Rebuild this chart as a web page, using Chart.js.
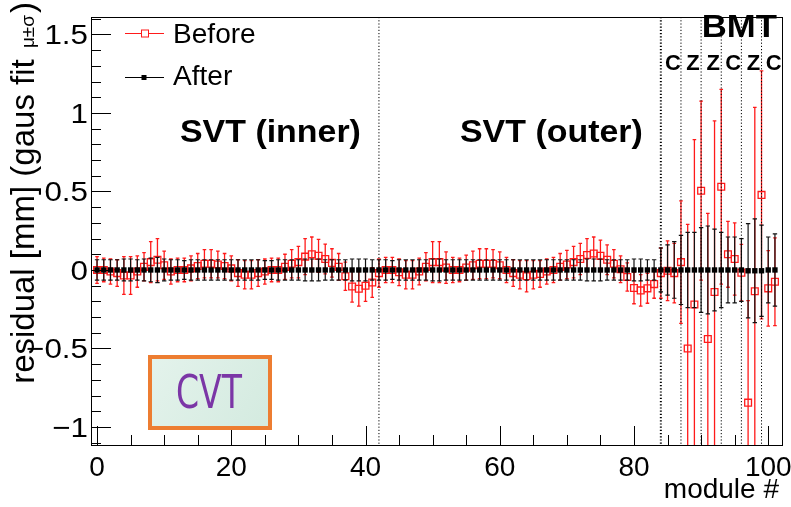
<!DOCTYPE html>
<html>
<head>
<meta charset="utf-8">
<script src="https://cdn.jsdelivr.net/npm/chart.js@4.4.1/dist/chart.umd.min.js"></script>
<style>
  html, body { margin: 0; padding: 0; background: #fff; }
  #wrap { width: 791px; height: 507px; }
</style>
</head>
<body>
<div id="wrap"><canvas id="residualChart" width="791" height="507"></canvas></div>
<script>
// module index 0..101 : 42 inner SVT, 42 outer SVT, 18 BMT
const modules = Array.from({ length: 102 }, (_, i) => i);

const beforeVal = [
  0.00, 0.00, -0.01, -0.02, -0.035, -0.035, -0.01, 0.02, 0.05, 0.065,
  0.03, -0.01, 0.00, 0.00, 0.01, 0.025, 0.04, 0.04, 0.035, 0.025,
  0.01, -0.02, -0.03, -0.03, -0.02, -0.01, 0.00, 0.00, 0.02, 0.04,
  0.05, 0.085, 0.10, 0.09, 0.07, 0.045, 0.02, -0.04, -0.105, -0.12,
  -0.10, -0.08, -0.02, 0.00, 0.00, -0.015, -0.03, -0.03, -0.01, 0.02,
  0.05, 0.05, 0.015, 0.00, 0.00, 0.015, 0.03, 0.04, 0.04, 0.04,
  0.03, 0.00, -0.02, -0.03, -0.04, -0.03, -0.025, -0.01, 0.00, 0.02,
  0.035, 0.05, 0.07, 0.095, 0.105, 0.09, 0.065, 0.04, 0.005, -0.045,
  -0.115, -0.13, -0.117, -0.09, -0.02, -0.005, -0.02, 0.05, -0.50, -0.22,
  0.505, -0.44, -0.14, 0.53, 0.10, 0.07, -0.017, -0.845, -0.135, 0.478,
  -0.117, -0.075
];
const beforeErr = [
  0.085, 0.075, 0.08, 0.085, 0.12, 0.12, 0.10, 0.09, 0.13, 0.135,
  0.09, 0.08, 0.075, 0.075, 0.08, 0.08, 0.09, 0.09, 0.085, 0.08,
  0.08, 0.085, 0.09, 0.09, 0.085, 0.08, 0.075, 0.075, 0.08, 0.09,
  0.10, 0.115, 0.11, 0.105, 0.095, 0.09, 0.085, 0.09, 0.10, 0.11,
  0.10, 0.095, 0.09, 0.08, 0.08, 0.085, 0.09, 0.09, 0.085, 0.09,
  0.13, 0.13, 0.10, 0.08, 0.075, 0.08, 0.09, 0.095, 0.095, 0.09,
  0.085, 0.08, 0.085, 0.09, 0.10, 0.09, 0.085, 0.08, 0.08, 0.085,
  0.09, 0.10, 0.10, 0.105, 0.105, 0.10, 0.095, 0.09, 0.085, 0.09,
  0.10, 0.10, 0.095, 0.09, 0.16, 0.19, 0.19, 0.39, 0.79, 1.05,
  0.57, 0.80, 1.09, 0.62, 0.21, 0.23, 0.18, 0.65, 1.17, 0.79,
  0.24, 0.28
];
const afterVal = [
  0, 0, 0, 0, 0, 0, 0, 0, 0, 0,
  0, 0, 0, 0, 0, 0, 0, 0, 0, 0,
  0, 0, 0, 0, 0, 0, 0, 0, 0, 0,
  0, 0, 0, 0, 0, 0, 0, 0, 0, 0,
  0, 0, 0, 0, 0, 0, 0, 0, 0, 0,
  0, 0, 0, 0, 0, 0, 0, 0, 0, 0,
  0, 0, 0, 0, 0, 0, 0, 0, 0, 0,
  0, 0, 0, 0, 0, 0, 0, 0, 0, 0,
  0, 0, 0, 0, 0, 0, 0, 0, 0, 0,
  0, 0, 0, 0, 0, 0, 0, -0.005, -0.005, -0.005,
  0, 0
];
const afterErr = [
  0.065, 0.065, 0.065, 0.065, 0.07, 0.07, 0.065, 0.07, 0.075, 0.08,
  0.07, 0.065, 0.065, 0.06, 0.065, 0.065, 0.065, 0.065, 0.065, 0.065,
  0.065, 0.065, 0.065, 0.065, 0.065, 0.06, 0.06, 0.065, 0.065, 0.065,
  0.065, 0.07, 0.07, 0.07, 0.065, 0.065, 0.065, 0.065, 0.07, 0.07,
  0.07, 0.065, 0.065, 0.065, 0.06, 0.065, 0.065, 0.065, 0.065, 0.065,
  0.07, 0.07, 0.065, 0.065, 0.065, 0.065, 0.065, 0.065, 0.065, 0.065,
  0.065, 0.065, 0.065, 0.065, 0.065, 0.065, 0.065, 0.065, 0.065, 0.065,
  0.065, 0.065, 0.065, 0.07, 0.07, 0.07, 0.065, 0.065, 0.065, 0.065,
  0.07, 0.07, 0.065, 0.065, 0.14, 0.16, 0.18, 0.22, 0.24, 0.24,
  0.27, 0.28, 0.26, 0.24, 0.21, 0.21, 0.20, 0.30, 0.33, 0.29,
  0.21, 0.23
];

const xTicks = [0, 20, 40, 60, 80, 100];
const yTicks = [-1, -0.5, 0, 0.5, 1, 1.5];
const sectionLines = [42, 84, 87, 90, 93, 96, 99];
const bmtLayers = ['C', 'Z', 'Z', 'C', 'Z', 'C'];
const bmtLayerCenters = [85.5, 88.5, 91.5, 94.5, 97.5, 100.5];

const FONT = '"Liberation Sans", Arial, Helvetica, sans-serif';

function txt(ctx, s, x, y, font, align, sx) {
  ctx.save();
  ctx.font = font;
  ctx.translate(x, y);
  ctx.scale(sx || 1, 1);
  ctx.textAlign = align || 'left';
  ctx.textBaseline = 'alphabetic';
  ctx.fillStyle = '#000';
  ctx.fillText(s, 0, 0);
  ctx.restore();
}

function fmtY(v) {
  return v < 0 ? '\u2212' + Math.abs(v) : String(v);
}

function drawErrors(chart, vals, errs, color, cap, lw) {
  const { ctx, chartArea: a } = chart;
  const x = chart.scales.x, y = chart.scales.y;
  ctx.save();
  ctx.beginPath();
  ctx.rect(a.left, a.top, a.right - a.left, a.bottom - a.top);
  ctx.clip();
  ctx.strokeStyle = color;
  ctx.lineWidth = lw;
  ctx.beginPath();
  modules.forEach((m, i) => {
    const px = x.getPixelForValue(m);
    const lo = y.getPixelForValue(vals[i] - errs[i]);
    const hi = y.getPixelForValue(vals[i] + errs[i]);
    ctx.moveTo(px, lo); ctx.lineTo(px, hi);
    ctx.moveTo(px - cap, lo); ctx.lineTo(px + cap, lo);
    ctx.moveTo(px - cap, hi); ctx.lineTo(px + cap, hi);
  });
  ctx.stroke();
  ctx.restore();
}

const rootStyle = {
  id: 'rootStyle',
  beforeDatasetDraw(chart, args) {
    if (args.meta.label === 'Before') drawErrors(chart, beforeVal, beforeErr, '#ff1a1a', 1.8, 1.3);
    else drawErrors(chart, afterVal, afterErr, '#111', 2.2, 1.2);
  },
  afterDatasetsDraw(chart) {
    const { ctx, chartArea: a } = chart;
    const x = chart.scales.x;
    ctx.save();
    ctx.strokeStyle = '#000';
    ctx.setLineDash([1.2, 2]);
    sectionLines.forEach(v => {
      const px = x.getPixelForValue(v);
      ctx.lineWidth = v === 84 ? 2 : 1;
      ctx.beginPath();
      ctx.moveTo(px, a.top);
      ctx.lineTo(px, a.bottom);
      ctx.stroke();
    });
    ctx.restore();
  },
  afterDraw(chart) {
    const { ctx, chartArea: a } = chart;
    const x = chart.scales.x, y = chart.scales.y;
    ctx.save();

    // frame
    ctx.strokeStyle = '#000';
    ctx.lineWidth = 1;
    ctx.strokeRect(a.left + 0.5, a.top + 0.5, a.right - a.left - 1, a.bottom - a.top - 1);

    // y ticks (inside)
    ctx.beginPath();
    for (let k = -11; k <= 16; k++) {
      const v = k / 10;
      const py = Math.round(y.getPixelForValue(v)) + 0.5;
      const major = k % 5 === 0;
      ctx.moveTo(a.left, py);
      ctx.lineTo(a.left + (major ? 20 : 10), py);
    }
    // x ticks (inside)
    for (let v = 0; v <= 100; v += 5) {
      const px = Math.round(x.getPixelForValue(v)) + 0.5;
      const major = v % 20 === 0;
      ctx.moveTo(px, a.bottom);
      ctx.lineTo(px, a.bottom - (major ? 20 : 11));
    }
    ctx.stroke();

    // tick labels
    yTicks.forEach(v => {
      txt(ctx, fmtY(v), 88, y.getPixelForValue(v) + 10, '28px ' + FONT, 'right', 1.12);
    });
    xTicks.forEach(v => {
      txt(ctx, String(v), x.getPixelForValue(v), 476, '28px ' + FONT, 'center', 1.0);
    });

    // axis titles
    txt(ctx, 'module #', 779, 498, '28px ' + FONT, 'right', 1.0);
    const p1 = 'residual [mm] (gaus fit ', p2 = '\u03bc\u00b1\u03c3', p3 = ')';
    ctx.font = '33px ' + FONT; const w1 = ctx.measureText(p1).width, w3 = ctx.measureText(p3).width;
    ctx.font = '19px ' + FONT; const w2 = ctx.measureText(p2).width + 4;
    ctx.save();
    ctx.translate(34, 2 + w1 + w2 + w3);
    ctx.rotate(-Math.PI / 2);
    ctx.fillStyle = '#000';
    ctx.textBaseline = 'alphabetic';
    ctx.font = '33px ' + FONT; ctx.fillText(p1, 0, 0);
    ctx.font = '19px ' + FONT; ctx.fillText(p2, w1 + 2, 0);
    ctx.font = '33px ' + FONT; ctx.fillText(p3, w1 + w2, 0);
    ctx.restore();

    // legend
    ctx.lineWidth = 1;
    ctx.strokeStyle = '#ff1a1a';
    ctx.beginPath(); ctx.moveTo(125, 33.5); ctx.lineTo(164, 33.5); ctx.stroke();
    ctx.fillStyle = '#fff';
    ctx.fillRect(141.5, 30, 7, 7);
    ctx.strokeRect(141.5, 30, 7, 7);
    ctx.strokeStyle = '#000';
    ctx.beginPath(); ctx.moveTo(125, 77.5); ctx.lineTo(164, 77.5); ctx.stroke();
    ctx.fillStyle = '#000';
    ctx.fillRect(141.5, 75, 5, 5);
    txt(ctx, 'Before', 173, 43, '27px ' + FONT, 'left', 1.04);
    txt(ctx, 'After', 173, 85, '27px ' + FONT, 'left', 1.04);

    // region labels
    txt(ctx, 'SVT (inner)', 180, 142, 'bold 32px ' + FONT, 'left', 1.06);
    txt(ctx, 'SVT (outer)', 460, 142, 'bold 32px ' + FONT, 'left', 1.06);
    txt(ctx, 'BMT', 777, 37, 'bold 31px ' + FONT, 'right', 1.12);
    bmtLayers.forEach((s, i) => {
      txt(ctx, s, x.getPixelForValue(bmtLayerCenters[i]) + 2, 70, 'bold 22px ' + FONT, 'center', 1.0);
    });

    // CVT badge
    const grad = ctx.createLinearGradient(148, 355, 272, 430);
    grad.addColorStop(0, '#e4f3ec');
    grad.addColorStop(1, '#d3eadf');
    ctx.fillStyle = grad;
    ctx.fillRect(150, 357, 120, 71);
    ctx.strokeStyle = '#ed7d31';
    ctx.lineWidth = 4;
    ctx.strokeRect(150, 357, 120, 71);
    ctx.save();
    ctx.font = '46px "DejaVu Sans", sans-serif';
    ctx.fillStyle = '#7b36a6';
    ctx.translate(209, 408);
    ctx.scale(0.72, 1);
    ctx.textAlign = 'center';
    ctx.fillText('CVT', 0, 0);
    ctx.restore();

    ctx.restore();
  }
};

const ctx = document.getElementById('residualChart');
new Chart(ctx, {
  type: 'scatter',
  data: {
    datasets: [
      {
        label: 'After',
        data: modules.map((m, i) => ({ x: m, y: afterVal[i] })),
        order: 0,
        pointStyle: 'rect',
        pointRadius: 3.8,
        backgroundColor: '#000',
        borderColor: '#000',
        borderWidth: 0
      },
      {
        label: 'Before',
        data: modules.map((m, i) => ({ x: m, y: beforeVal[i] })),
        order: 1,
        pointStyle: 'rect',
        pointRadius: 4.8,
        backgroundColor: 'rgba(0,0,0,0)',
        borderColor: '#ff1a1a',
        borderWidth: 1.3
      }
    ]
  },
  options: {
    responsive: false,
    animation: false,
    events: [],
    layout: { padding: { left: 0, top: 17, right: 8, bottom: 0 } },
    plugins: { legend: { display: false }, tooltip: { enabled: false } },
    scales: {
      x: {
        type: 'linear', min: -0.9, max: 102.2,
        afterFit: s => { s.height = 61; },
        ticks: { display: false }, grid: { display: false }, border: { display: false }
      },
      y: {
        min: -1.121, max: 1.611,
        afterFit: s => { s.width = 91; },
        ticks: { display: false }, grid: { display: false }, border: { display: false }
      }
    }
  },
  plugins: [rootStyle]
});
</script>
</body>
</html>
